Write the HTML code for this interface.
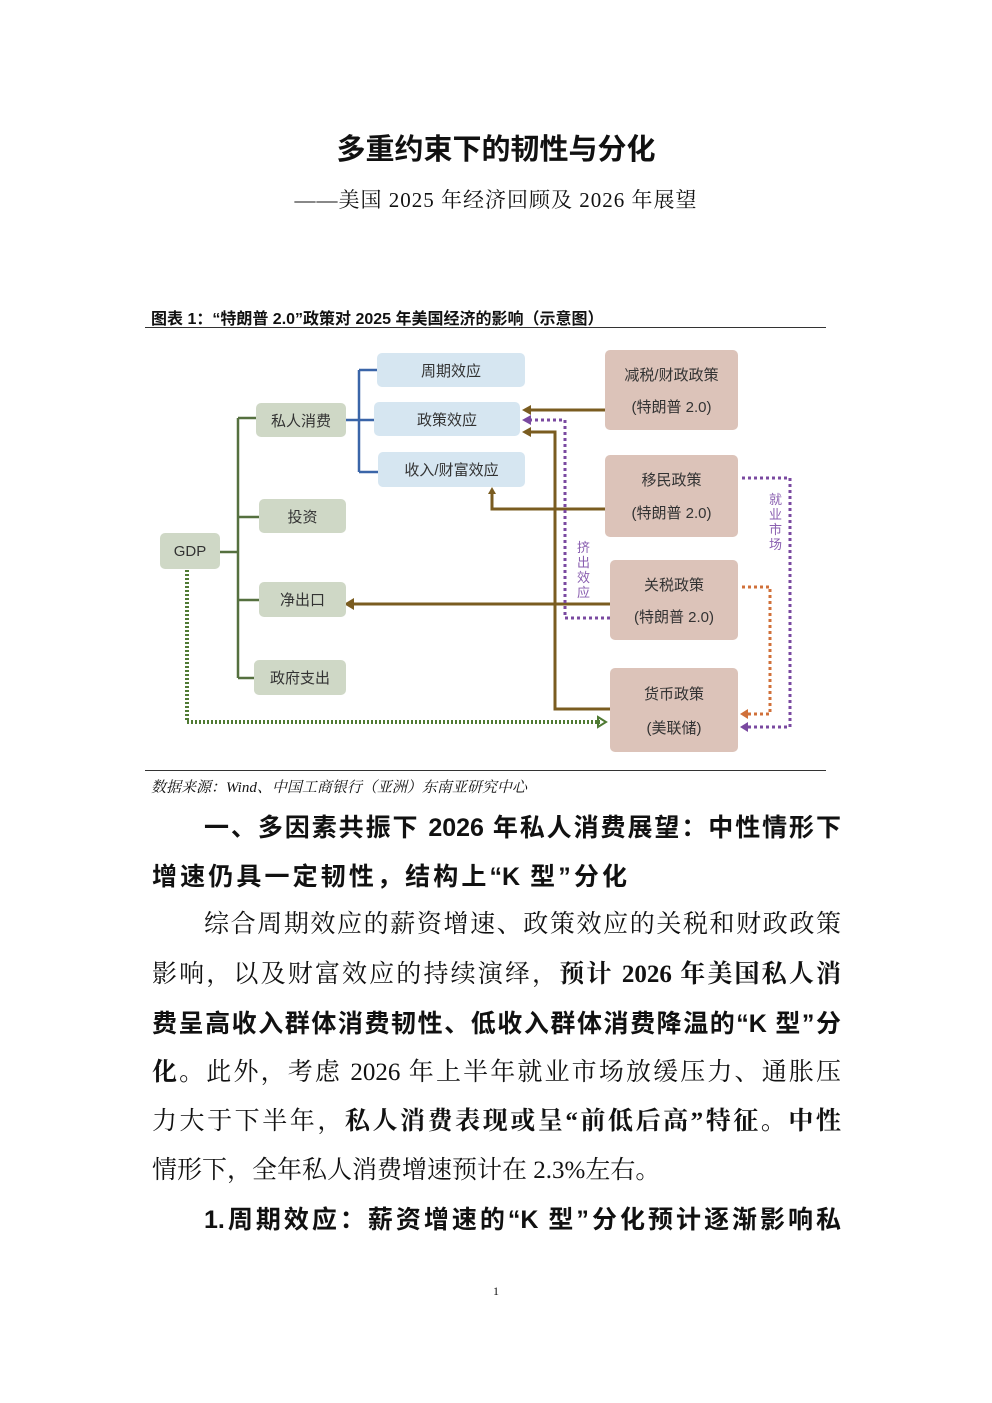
<!DOCTYPE html>
<html><head><meta charset="utf-8"><style>
body{margin:0;background:#fff;width:992px;height:1403px;position:relative;font-family:"Liberation Serif","Noto Serif CJK SC",serif;color:#111;overflow:hidden}
.a{position:absolute}
.ln{position:absolute;left:152px;width:689px;font-size:25px;text-align:justify;text-align-last:justify;white-space:nowrap;line-height:30px}
.b{font-family:"Liberation Sans","Noto Sans CJK SC",sans-serif;font-weight:bold}
.bx{position:absolute;display:flex;align-items:center;justify-content:center;font-family:"Liberation Sans","Noto Sans CJK SC",sans-serif;font-size:15px;color:#333;border-radius:5px}
.g{background:#cfd8c6}.bl{background:#d6e6f1}.r{background:#dcc3b9;flex-direction:column;justify-content:space-around;padding:8px 0;box-sizing:border-box}
</style></head><body>
<div class="a" style="left:0;width:992px;top:126px;text-align:center;font-size:29px;font-family:'Liberation Sans','Noto Sans CJK SC',sans-serif;font-weight:bold">多重约束下的韧性与分化</div>
<div class="a" style="left:0;width:992px;top:184px;text-align:center;font-size:21px;letter-spacing:1px">——美国 2025 年经济回顾及 2026 年展望</div>
<div class="a b" style="left:151px;top:305px;font-size:16px">图表 1：“特朗普 2.0”政策对 2025 年美国经济的影响（示意图）</div>
<div class="a" style="left:145px;top:327px;width:681px;height:1px;background:#333"></div>
<svg class="a" style="left:0;top:0" width="992" height="800">
<g fill="none" stroke="#55703f" stroke-width="2.5">
<path d="M220 552H238M238 418V678M238 418H256M238 517H259M238 600H259M238 678H254"/></g>
<g fill="none" stroke="#3a65a8" stroke-width="2.5"><path d="M346 420H374M359 370V472M359 370H377M359 472H378"/></g>
<g fill="none" stroke="#7a5c20" stroke-width="3">
<path d="M605 410H530"/><path d="M605 509H492V493"/><path d="M610 604H352"/><path d="M610 709H555V432H530"/></g>
<g fill="#7a5c20"><path d="M522 410l9-5v10z"/><path d="M522 432l9-5v10z"/><path d="M344 604l10-6v12z"/><path d="M492 487l-4 7h8z"/></g>
<g fill="none" stroke-dasharray="3 3" stroke-width="3">
<path d="M610 618H565V420H530" stroke="#7a49a0"/>
<path d="M742 478H790V727H746" stroke="#7a49a0"/>
<path d="M742 587H770V714H746" stroke="#d0703a"/>
<path d="M187 570V722H600" stroke="#4f7a33" stroke-width="4" stroke-dasharray="2 2"/></g>
<path d="M522 420l9-5v10z" fill="#7a49a0"/><path d="M740 727l8-5v10z" fill="#7a49a0"/><path d="M740 714l8-5v10z" fill="#d0703a"/>
<path d="M598 717l8 5-8 5z" fill="none" stroke="#4f7a33" stroke-width="2"/>
<g font-family="Liberation Sans,Noto Sans CJK SC,sans-serif" font-size="13" fill="#8a5fb0"><text x="577" y="552">挤</text><text x="577" y="567">出</text><text x="577" y="582">效</text><text x="577" y="597">应</text>
<text x="769" y="504">就</text><text x="769" y="519">业</text><text x="769" y="534">市</text><text x="769" y="549">场</text></g>
</svg>
<div class="bx bl" style="left:377px;top:353px;width:148px;height:34px">周期效应</div>
<div class="bx bl" style="left:374px;top:402px;width:146px;height:34px">政策效应</div>
<div class="bx bl" style="left:378px;top:452px;width:147px;height:35px">收入/财富效应</div>
<div class="bx g" style="left:256px;top:403px;width:90px;height:34px">私人消费</div>
<div class="bx g" style="left:259px;top:499px;width:87px;height:34px">投资</div>
<div class="bx g" style="left:160px;top:533px;width:60px;height:36px">GDP</div>
<div class="bx g" style="left:259px;top:582px;width:87px;height:35px">净出口</div>
<div class="bx g" style="left:254px;top:660px;width:92px;height:35px">政府支出</div>
<div class="bx r" style="left:605px;top:350px;width:133px;height:80px"><span>减税/财政政策</span><span>(特朗普 2.0)</span></div>
<div class="bx r" style="left:605px;top:455px;width:133px;height:82px"><span>移民政策</span><span>(特朗普 2.0)</span></div>
<div class="bx r" style="left:610px;top:560px;width:128px;height:80px"><span>关税政策</span><span>(特朗普 2.0)</span></div>
<div class="bx r" style="left:610px;top:668px;width:128px;height:84px"><span>货币政策</span><span>(美联储)</span></div>
<div class="a" style="left:145px;top:770px;width:681px;height:1px;background:#333"></div>
<div class="a" style="left:151px;top:776px;font-size:15px;font-style:italic">数据来源：Wind、中国工商银行（亚洲）东南亚研究中心</div>
<div class="ln b" style="top:813px;left:204px;width:637px">一、多因素共振下 2026 年私人消费展望：中性情形下</div>
<div class="ln b" style="top:862px;width:475px">增速仍具一定韧性，结构上“K 型”分化</div>
<div class="ln" style="top:910px;left:204px;width:637px">综合周期效应的薪资增速、政策效应的关税和财政政策</div>
<div class="ln" style="top:960px">影响，以及财富效应的持续演绎，<b>预计 2026 年美国私人消</b></div>
<div class="ln b" style="top:1009px">费呈高收入群体消费韧性、低收入群体消费降温的“K 型”分</div>
<div class="ln" style="top:1058px"><b>化。</b>此外，考虑 2026 年上半年就业市场放缓压力、通胀压</div>
<div class="ln" style="top:1107px">力大于下半年，<b>私人消费表现或呈“前低后高”特征。中性</b></div>
<div class="ln" style="top:1156px;width:470px">情形下，全年私人消费增速预计在 2.3%左右。</div>
<div class="ln b" style="top:1205px;left:204px;width:637px">1.周期效应：薪资增速的“K 型”分化预计逐渐影响私</div>
<div class="a" style="left:0;width:992px;top:1284px;text-align:center;font-size:12px">1</div>
</body></html>
